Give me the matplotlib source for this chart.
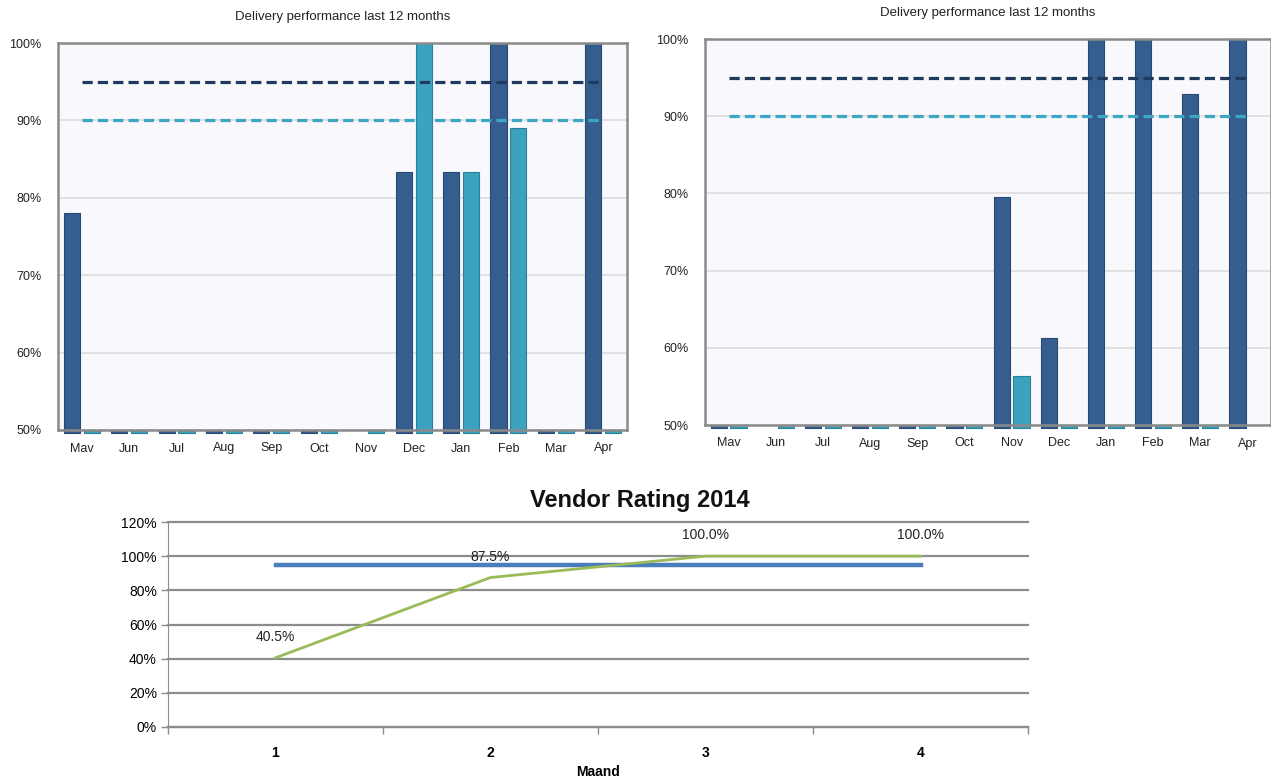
import matplotlib
matplotlib.use('Agg')
import matplotlib.pyplot as plt
import numpy as np

# ---- data ----
months = ['Mav', 'Jun', 'Jul', 'Aug', 'Sep', 'Oct', 'Nov', 'Dec', 'Jan', 'Feb', 'Mar', 'Apr']
nan = np.nan
left_dark = [78.0, 0, 0, 0, 0, 0, nan, 83.3, 83.3, 100, 0, 100]
left_light = [0, 0, 0, 0, 0, 0, 0, 100, 83.3, 89.0, 0, 0]
right_dark = [0, nan, 0, 0, 0, 0, 79.5, 61.3, 100, 100, 92.9, 100]
right_light = [0, 0, 0, 0, 0, 0, 56.3, 0, 0, 0, 0, nan]
target_dark = 95
target_light = 90

vr_months = [1, 2, 3, 4]
vr_values = [40.5, 87.5, 100.0, 100.0]
vr_target = [95, 95, 95, 95]

W, H = 1271, 778
fig = plt.figure(figsize=(W / 100, H / 100), dpi=100)
plt.rcParams['font.family'] = ['Liberation Sans', 'DejaVu Sans']


def px_axes(x0, y0, x1, y1):
    return fig.add_axes([x0 / W, 1 - y1 / H, (x1 - x0) / W, (y1 - y0) / H])


DARK = '#355E8F'
LIGHT = '#3BA3C0'


def delivery(ax, dark, light, title, title_y):
    x = np.arange(len(months))
    base = 49.6
    for vals, off, col, ec in [(dark, -0.21, DARK, '#284A72'), (light, 0.21, LIGHT, '#2C8098')]:
        v = np.array(vals, dtype=float)
        m = ~np.isnan(v)
        h = np.maximum(v[m], 50) - base
        ax.bar(x[m] + off, h, bottom=base, width=0.34, color=col, edgecolor=ec,
               linewidth=0.8, clip_on=False, zorder=3)
    ax.plot([0, 11], [target_dark] * 2, color='#1F3A5C', lw=2.3, dashes=(3.2, 1.6), zorder=4)
    ax.plot([0, 11], [target_light] * 2, color='#3DA6C3', lw=2.3, dashes=(3.2, 1.6), zorder=4)
    ax.set_xlim(-0.5, 11.5)
    ax.set_ylim(50, 100)
    ax.set_facecolor('#F8F8FD')
    ax.set_yticks([50, 60, 70, 80, 90, 100])
    ax.set_yticklabels(['50%', '60%', '70%', '80%', '90%', '100%'])
    ax.set_xticks(x)
    ax.set_xticklabels(months)
    ax.tick_params(length=0, labelsize=9, colors='#222222')
    ax.tick_params(axis='y', pad=12)
    ax.tick_params(axis='x', pad=9)
    ax.grid(axis='y', color='#DDDDDD', lw=1.2, zorder=0)
    ax.set_axisbelow(True)
    for s in ax.spines.values():
        s.set_color('#8A8A8A')
        s.set_linewidth(1.8)
        s.set_zorder(5)
    fig.text(ax.get_position().x0 + ax.get_position().width / 2, 1 - title_y / H, title,
             ha='center', va='center', fontsize=9.5, color='#222222')


ax1 = px_axes(58, 43, 627, 430)
delivery(ax1, left_dark, left_light, 'Delivery performance last 12 months', 17)
ax2 = px_axes(705, 39, 1271, 425)
delivery(ax2, right_dark, right_light, 'Delivery performance last 12 months', 13)

# ---- Vendor rating ----
narrow = ['Liberation Sans Narrow', 'Liberation Sans', 'DejaVu Sans']
ax3 = px_axes(168, 522, 1028, 727)
ax3.plot(vr_months, vr_target, color='#4A7EBB', lw=3.2, zorder=3)
ax3.plot(vr_months, vr_values, color='#9BBB59', lw=2, zorder=4)
for xm, v in zip(vr_months, vr_values):
    ax3.annotate('%.1f%%' % v, (xm, v), xytext=(0, 10), textcoords='offset points',
                 ha='center', va='bottom', fontsize=10, family=narrow, color='#222222')
ax3.set_xlim(0.5, 4.5)
ax3.set_ylim(0, 120)
ax3.set_yticks(range(0, 121, 20))
ax3.set_yticklabels(['%d%%' % t for t in range(0, 121, 20)], family=narrow)
ax3.set_xticks(vr_months)
ax3.set_xticklabels([str(m) for m in vr_months], family=narrow, fontweight='bold')
ax3.set_xticks([0.5, 1.5, 2.5, 3.5, 4.5], minor=True)
ax3.tick_params(axis='x', which='major', length=0, pad=14, labelsize=10)
ax3.tick_params(axis='x', which='minor', length=5, color='#8C8C8C', width=1)
ax3.tick_params(axis='y', length=5, color='#8C8C8C', width=1, labelsize=10, pad=3)
ax3.grid(axis='y', color='#8C8C8C', lw=1.6, zorder=0)
for gl in ax3.get_ygridlines():
    gl.set_clip_on(False)
ax3.set_axisbelow(True)
for s in ['top', 'right']:
    ax3.spines[s].set_visible(False)
ax3.spines['left'].set_color('#8C8C8C')
ax3.spines['bottom'].set_color('#8C8C8C')
ax3.spines['bottom'].set_linewidth(1.6)
ax3.set_xlabel('Maand', family=narrow, fontweight='bold', fontsize=10, labelpad=3)
fig.text(640 / W, 1 - 500 / H, 'Vendor Rating 2014', ha='center', va='center',
         fontsize=17, fontweight='bold', family=narrow, color='#111111')

fig.savefig('out.png', dpi=100)
